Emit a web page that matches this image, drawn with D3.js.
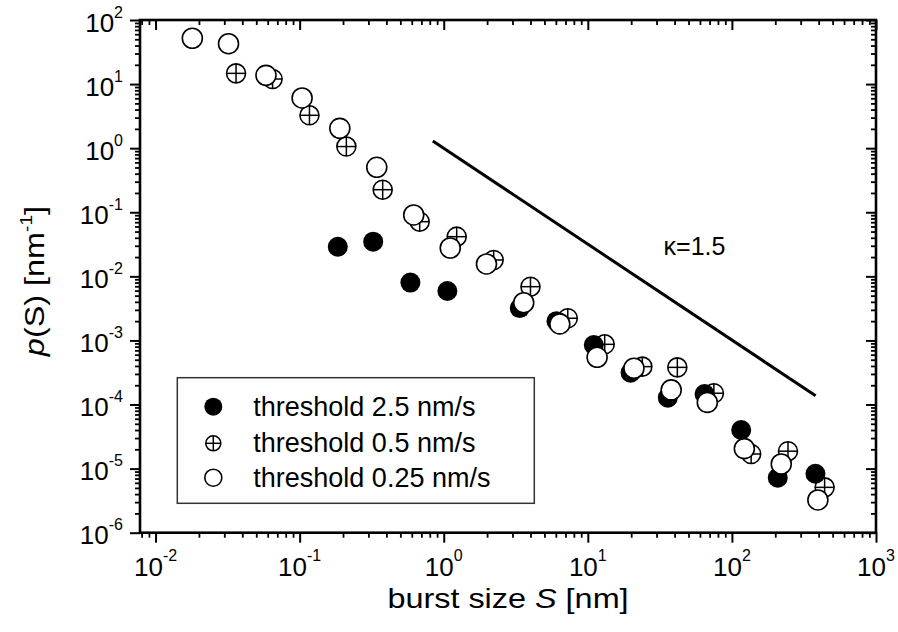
<!DOCTYPE html>
<html>
<head>
<meta charset="utf-8">
<script src="https://cdn.jsdelivr.net/npm/d3@7"></script>
<style>
  html, body { margin: 0; padding: 0; background: #fff; }
  svg { display: block; font-family: "Liberation Sans", Arial, sans-serif; }
</style>
</head>
<body>
<svg id="chart" width="898" height="632"></svg>
<script>
// ---- data ----
const seriesNames = ["threshold 2.5 nm/s", "threshold 0.5 nm/s", "threshold 0.25 nm/s"];

const t25S = [0.184, 0.324, 0.587, 1.06, 3.37, 6.06, 11.0, 19.8, 35.9, 64.6, 116, 208, 380];
const t25P = [0.029, 0.0348, 0.0080, 0.0059, 0.0032, 0.0020, 0.00085, 0.000314, 0.000128, 0.000146, 4.0e-5, 7.2e-6, 8.3e-6];

const t05S = [0.0362, 0.0649, 0.117, 0.211, 0.377, 0.681, 1.23, 2.22, 4.0, 7.26, 13.1, 23.9, 41.8, 75, 136, 245, 440];
const t05P = [14.7, 12.0, 3.26, 1.06, 0.225, 0.0713, 0.0416, 0.018, 0.0069, 0.00222, 0.00087, 0.00039, 0.00038, 0.00015, 1.69e-5, 1.87e-5, 5.1e-6];

const t025S = [0.018, 0.0321, 0.0584, 0.104, 0.190, 0.343, 0.619, 1.11, 1.98, 3.59, 6.39, 11.6, 20.9, 37.9, 67.5, 122, 220, 395];
const t025P = [51.9, 42.7, 13.7, 6.07, 2.04, 0.503, 0.0907, 0.0277, 0.0156, 0.00388, 0.00181, 0.000546, 0.000368, 0.000169, 0.000108, 2.05e-5, 1.18e-5, 3.24e-6];

const guideS = [0.84, 381];
const guideP = [1.295, 1.37e-4];
const guideLabel = "κ=1.5";
const guideLabelAt = [55, 0.0215];

const xDomain = [0.0078, 1000];
const yDomain = [1e-6, 100];
const xTickExp = ["-2", "-1", "0", "1", "2", "3"];
const yTickExp = ["2", "1", "0", "-1", "-2", "-3", "-4", "-5", "-6"];

// ---- layout ----
const L = 140, R = 876, T = 20, B = 532.7;
const svg = d3.select("#chart");
const x = d3.scaleLog().domain(xDomain).range([L, R]);
const y = d3.scaleLog().domain(yDomain).range([B, T]);

const xMajor = xTickExp.map(e => Math.pow(10, +e));
const yMajor = yTickExp.map(e => Math.pow(10, +e));
const isPow = v => Math.abs(Math.log10(v) - Math.round(Math.log10(v))) < 1e-9;
const xMinor = x.ticks().filter(v => !isPow(v));
const yMinor = y.ticks().filter(v => !isPow(v));

function styleAxis(g, w) {
  g.select(".domain").remove();
  g.selectAll("line").attr("stroke", "#000").attr("stroke-width", w);
}

// bottom (outward)
svg.append("g").attr("transform", `translate(0,${B})`)
  .call(d3.axisBottom(x).tickValues(xMajor).tickSize(10).tickFormat(""))
  .call(g => styleAxis(g, 2));
svg.append("g").attr("transform", `translate(0,${B})`)
  .call(d3.axisBottom(x).tickValues(xMinor).tickSize(5).tickFormat(""))
  .call(g => styleAxis(g, 1.8));
// top (inward)
svg.append("g").attr("transform", `translate(0,${T})`)
  .call(d3.axisBottom(x).tickValues(xMajor).tickSize(10).tickFormat(""))
  .call(g => styleAxis(g, 2));
svg.append("g").attr("transform", `translate(0,${T})`)
  .call(d3.axisBottom(x).tickValues(xMinor).tickSize(5).tickFormat(""))
  .call(g => styleAxis(g, 1.8));
// left (outward)
svg.append("g").attr("transform", `translate(${L},0)`)
  .call(d3.axisLeft(y).tickValues(yMajor).tickSize(10).tickFormat(""))
  .call(g => styleAxis(g, 2));
svg.append("g").attr("transform", `translate(${L},0)`)
  .call(d3.axisLeft(y).tickValues(yMinor).tickSize(5).tickFormat(""))
  .call(g => styleAxis(g, 1.8));
// right (inward)
svg.append("g").attr("transform", `translate(${R},0)`)
  .call(d3.axisLeft(y).tickValues(yMajor).tickSize(10).tickFormat(""))
  .call(g => styleAxis(g, 2));
svg.append("g").attr("transform", `translate(${R},0)`)
  .call(d3.axisLeft(y).tickValues(yMinor).tickSize(5).tickFormat(""))
  .call(g => styleAxis(g, 1.8));

// frame
svg.append("rect").attr("x", L).attr("y", T).attr("width", R - L).attr("height", B - T)
  .attr("fill", "none").attr("stroke", "#000").attr("stroke-width", 2.6);

// tick labels
xTickExp.forEach(e => {
  const t = svg.append("text").attr("x", x(Math.pow(10, +e))).attr("y", 576)
    .attr("text-anchor", "middle").attr("font-size", 26).attr("fill", "#000");
  t.append("tspan").text("10");
  t.append("tspan").attr("font-size", 16).attr("dy", -15).text(e);
});
yTickExp.forEach(e => {
  const t = svg.append("text").attr("x", 123).attr("y", y(Math.pow(10, +e)) + 11.5)
    .attr("text-anchor", "end").attr("font-size", 26).attr("fill", "#000");
  t.append("tspan").text("10");
  t.append("tspan").attr("font-size", 16).attr("dy", -14).text(e);
});

// axis titles (text is stretched along its direction in the reference)
const xt = svg.append("text").attr("transform", "translate(508,608) scale(1.2,1)")
  .attr("text-anchor", "middle").attr("font-size", 27).attr("fill", "#000");
xt.append("tspan").text("burst size ");
xt.append("tspan").attr("font-style", "italic").text("S");
xt.append("tspan").text(" [nm]");

const yt = svg.append("text").attr("transform", "translate(44,281) rotate(-90) scale(1.2,1)")
  .attr("text-anchor", "middle").attr("font-size", 27).attr("fill", "#000");
yt.append("tspan").attr("font-style", "italic").text("p");
yt.append("tspan").text("(S) [nm");
yt.append("tspan").attr("font-size", 16).attr("dy", -12).text("-1");
yt.append("tspan").attr("dy", 12).text("]");

// guide line
svg.append("line")
  .attr("x1", x(guideS[0])).attr("y1", y(guideP[0]))
  .attr("x2", x(guideS[1])).attr("y2", y(guideP[1]))
  .attr("stroke", "#000").attr("stroke-width", 3);
svg.append("text").attr("x", x(guideLabelAt[0])).attr("y", y(guideLabelAt[1]))
  .attr("text-anchor", "middle").attr("font-size", 25).attr("fill", "#000").text(guideLabel);

// markers
function crossed(g, cx, cy, r) {
  g.append("circle").attr("cx", cx).attr("cy", cy).attr("r", r)
    .attr("fill", "#fff").attr("stroke", "#000").attr("stroke-width", 1.6);
  g.append("line").attr("x1", cx - r).attr("x2", cx + r).attr("y1", cy).attr("y2", cy)
    .attr("stroke", "#000").attr("stroke-width", 1.5);
  g.append("line").attr("x1", cx).attr("x2", cx).attr("y1", cy - r).attr("y2", cy + r)
    .attr("stroke", "#000").attr("stroke-width", 1.5);
}
const gC = svg.append("g");
t05S.forEach((s, i) => crossed(gC, x(s), y(t05P[i]), 9.5));

svg.append("g").selectAll("circle").data(t25S).join("circle")
  .attr("cx", d => x(d)).attr("cy", (d, i) => y(t25P[i])).attr("r", 10)
  .attr("fill", "#000");

svg.append("g").selectAll("circle").data(t025S).join("circle")
  .attr("cx", d => x(d)).attr("cy", (d, i) => y(t025P[i])).attr("r", 10)
  .attr("fill", "#fff").attr("stroke", "#000").attr("stroke-width", 1.6);

// legend
const lg = svg.append("g");
lg.append("rect").attr("x", 177.3).attr("y", 377.7).attr("width", 357).attr("height", 125.6)
  .attr("fill", "#fff").attr("stroke", "#333").attr("stroke-width", 1.5);
const rows = [406.7, 443.3, 477.7];
lg.append("circle").attr("cx", 213.3).attr("cy", rows[0]).attr("r", 9).attr("fill", "#000");
crossed(lg, 213.3, rows[1], 7.5);
lg.append("circle").attr("cx", 213.3).attr("cy", rows[2]).attr("r", 8.5)
  .attr("fill", "#fff").attr("stroke", "#000").attr("stroke-width", 1.6);
seriesNames.forEach((n, i) => {
  lg.append("text").attr("x", 253.3).attr("y", rows[i] + 9).attr("font-size", 27)
    .attr("fill", "#000").text(n);
});
</script>
</body>
</html>
